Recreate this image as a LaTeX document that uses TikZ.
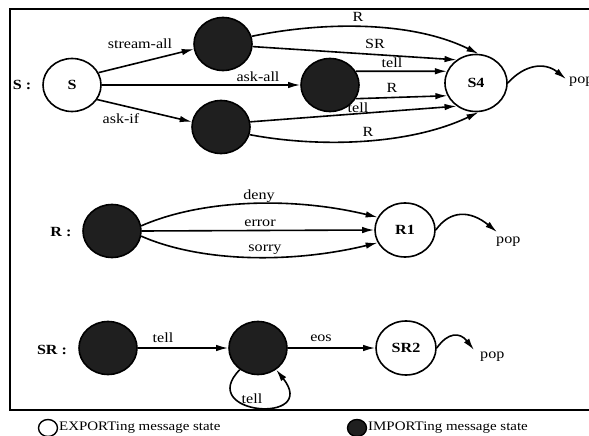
\documentclass[tikz,border=0pt]{standalone}
\usepackage{fontspec}
\setmainfont{Liberation Serif}[FakeStretch=1.15]
\usetikzlibrary{shapes.geometric,arrows.meta}
\begin{document}
\begin{tikzpicture}[x=1pt,y=-1pt,
  st/.style={ellipse,draw,line width=1.6pt,minimum width=58pt,minimum height=53pt,inner sep=0pt,font=\fontsize{14}{16}\selectfont\bfseries},
  expo/.style={st,fill=white},
  impo/.style={st,fill=black!88},
  edge/.style={line width=1.6pt,-{Latex[length=12pt,width=6.5pt]}},
  lbl/.style={inner sep=0pt,font=\fontsize{14}{16}\selectfont},
  rowlbl/.style={inner sep=0pt,font=\fontsize{14}{16}\selectfont\bfseries},
  leg/.style={ellipse,draw,line width=1.4pt,minimum width=19pt,minimum height=17pt,inner sep=0pt},
  legtxt/.style={inner sep=0pt,anchor=west,font=\fontsize{13}{15}\selectfont},
  frame/.style={line width=1.6pt}
]
\clip (0,0) rectangle (589,436);
\draw[frame] (600,9) -- (10,9) -- (10,410) -- (600,410);

% ---- S row
\node[rowlbl] (lS) at (22,85) {S :};
\node[expo] (S) at (72,85) {S};
\node[impo] (B1) at (223,44) {};
\node[impo] (B3) at (330,85) {};
\node[impo] (B2) at (221,127) {};
\node[expo,minimum width=62pt,minimum height=57pt] (S4) at (476,83) {S4};

\draw[edge] (S.25) -- (B1.190);
\node[lbl] (t1) at (140,44) {stream-all};
\draw[edge] (S.east) -- (B3.west);
\node[lbl] (t2) at (258,77) {ask-all};
\draw[edge] (S.-30) -- (B2.170);
\node[lbl] (t3) at (121,119) {ask-if};

\draw[edge] (B1.15) .. controls (320,22) and (410,20) .. (S4.85);
\node[lbl] (t4) at (358,17) {R};
\draw[edge] (B1.-5) -- (S4.130);
\node[lbl] (t5) at (375,44) {SR};
\draw[edge] (B3.28) -- (S4.158);
\node[lbl] (t6) at (392,63) {tell};
\draw[edge] (B3.-28) -- (S4.-156);
\node[lbl] (t7) at (392,88) {R};
\draw[edge] (B2.10) -- (S4.-130);
\node[lbl] (t8) at (358,108) {tell};
\draw[edge] (B2.-15) .. controls (320,148) and (410,145) .. (S4.-85);
\node[lbl] (t9) at (368,132) {R};

\coordinate (p1) at (566,79);
\draw[edge] (S4.east) .. controls (525,64) and (545,62) .. (p1);
\node[lbl,anchor=west] (pop1) at (569,82) {pop};

% ---- R row
\node[rowlbl] (lR) at (61,232) {R :};
\node[impo] (BR) at (112,231) {};
\node[expo,minimum width=60pt,minimum height=54pt] (R1) at (405,230) {R1};

\draw[edge] (BR.10) .. controls (200,200) and (290,196) .. (R1.155);
\node[lbl] (t10) at (259,196) {deny};
\draw[edge] (BR.east) -- (R1.west);
\node[lbl] (t11) at (260,223) {error};
\draw[edge] (BR.-10) .. controls (200,262) and (290,264) .. (R1.-155);
\node[lbl] (t12) at (265,250) {sorry};

\coordinate (p2) at (497,232);
\draw[edge] (R1.east) .. controls (450,210) and (470,210) .. (p2);
\node[lbl,anchor=west] (pop2) at (496,242) {pop};

% ---- SR row
\node[rowlbl] (lSR) at (52,350) {SR :};
\node[impo] (BS1) at (108,348) {};
\node[impo] (BS2) at (258,348) {};
\node[expo,minimum width=60pt,minimum height=54pt] (SR2) at (406,348) {SR2};

\draw[edge] (BS1.east) -- (BS2.west);
\node[lbl] (t13) at (163,338) {tell};
\draw[edge] (BS2.east) -- (SR2.west);
\node[lbl] (t14) at (321,338) {eos};
\draw[edge] (BS2.-130) .. controls (195,415) and (320,425) .. (BS2.-50);
\node[lbl] (t15) at (252,399) {tell};

\coordinate (p3) at (474,350);
\draw[edge] (SR2.east) .. controls (448,332) and (460,332) .. (p3);
\node[lbl,anchor=west] (pop3) at (480,357) {pop};

% ---- legend
\node[leg,fill=white] (lw) at (48,428) {};
\node[legtxt] (lwt) at (59,428) {EXPORTing message state};
\node[leg,fill=black!88] (lb) at (357,428) {};
\node[legtxt] (lbt) at (368,428) {IMPORTing message state};
\end{tikzpicture}
\end{document}
